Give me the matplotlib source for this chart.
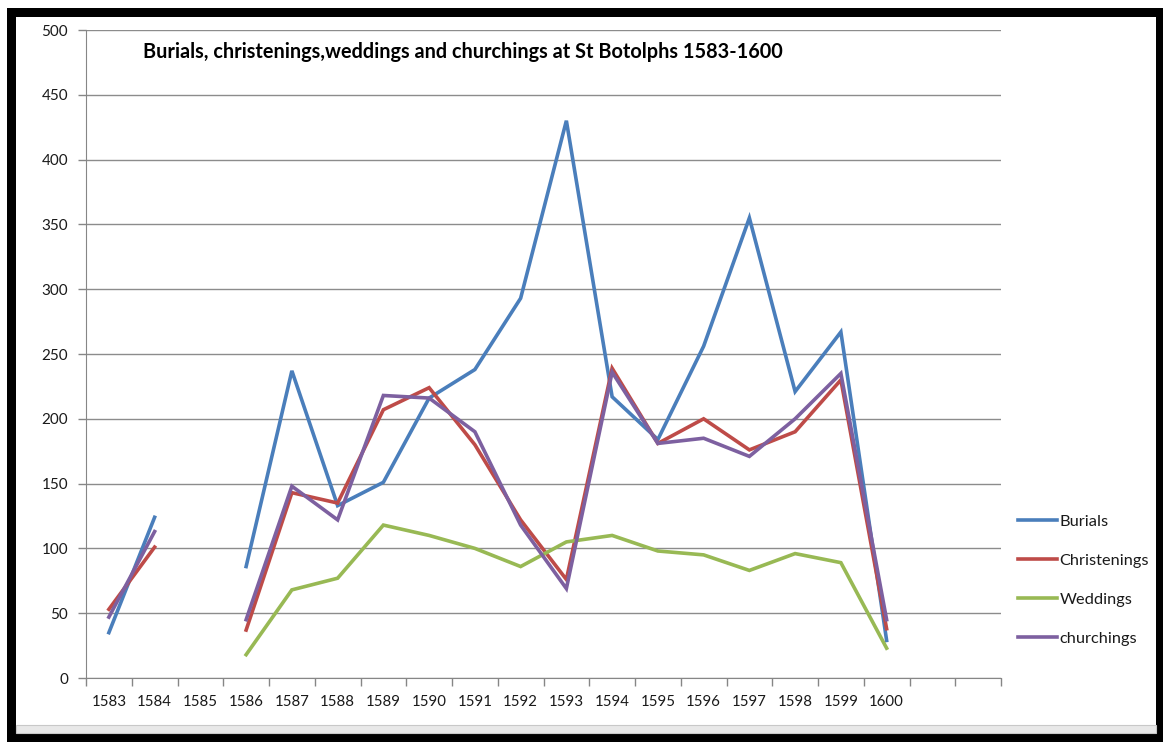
import numpy as np
import matplotlib
matplotlib.use("Agg")
import matplotlib.pyplot as plt
from matplotlib.patches import Rectangle

nan = np.nan
years = ["1583", "1584", "1585", "1586", "1587", "1588", "1589", "1590", "1591",
         "1592", "1593", "1594", "1595", "1596", "1597", "1598", "1599", "1600", "", ""]
burials = [35, 124, nan, 86, 237, 133, 151, 216, 238, 293, 430, 217, 184, 256, 355, 221, 267, 29, nan, nan]
christenings = [53, 101, nan, 37, 143, 135, 207, 224, 180, 122, 76, 239, 181, 200, 176, 190, 230, 38, nan, nan]
weddings = [nan, nan, nan, 18, 68, 77, 118, 110, 100, 86, 105, 110, 98, 95, 83, 96, 89, 23, nan, nan]
churchings = [47, 113, nan, 45, 148, 122, 218, 216, 190, 118, 69, 236, 181, 185, 171, 200, 235, 45, nan, nan]

series = [("Burials", burials, "#4A7EBB"),
          ("Christenings", christenings, "#BE4B48"),
          ("Weddings", weddings, "#98B954"),
          ("churchings", churchings, "#7D60A0")]

plt.rcParams['font.family'] = ['Lato', 'DejaVu Sans']

W, H = 1167, 742
fig = plt.figure(figsize=(W / 100, H / 100), dpi=100)

# outer black frame
fig.patches.append(Rectangle((7 / W, 0 / H), (W - 11) / W, (H - 8) / H, transform=fig.transFigure,
                             facecolor="black", edgecolor="none", zorder=-10))
fig.patches.append(Rectangle((16 / W, 9 / H), (W - 27) / W, (H - 26) / H, transform=fig.transFigure,
                             facecolor="white", edgecolor="none", zorder=-9))
# bottom status strip
fig.patches.append(Rectangle((16 / W, 9 / H), (W - 27) / W, 8 / H, transform=fig.transFigure,
                             facecolor="#e8e8e8", edgecolor="#c8c8c8", lw=0.8, zorder=-8))

ax = fig.add_axes([86 / W, (H - 678) / H, (1001 - 86) / W, (678 - 30) / H])
x = np.arange(len(years))
for name, vals, col in series:
    ax.plot(x, vals, color=col, lw=2.6, label=name, solid_joinstyle="miter")

ax.set_xlim(-0.5, len(years) - 0.5)
ax.set_ylim(0, 500)
ax.set_yticks(np.arange(0, 501, 50))
ax.set_xticks(x)
ax.set_xticklabels(years)
ax.set_xticks(np.arange(-0.5, len(years), 1), minor=True)
ax.tick_params(axis="x", which="major", length=0, pad=12, labelsize=10.8, labelcolor="#1a1a1a")
ax.tick_params(axis="x", which="minor", length=6, width=1, color="#868686", direction="out")
ax.tick_params(axis="y", length=6, width=1, color="#868686", labelsize=11, labelcolor="#1a1a1a", pad=7)
ax.grid(axis="y", color="#8c8c8c", lw=1)
ax.set_axisbelow(True)
for s in ["top", "right"]:
    ax.spines[s].set_visible(False)
ax.spines["left"].set_color("#868686")
ax.spines["bottom"].set_color("#868686")

fig.text(143 / W, 1 - 52 / H, "Burials, christenings,weddings and churchings at St Botolphs 1583-1600",
         fontsize=14.3, fontweight="bold", va="center", ha="left", color="black")

leg = fig.legend(loc="center left", bbox_to_anchor=(1003 / W, 1 - 580 / H), frameon=False,
                 fontsize=11.8, handlelength=2.4, handletextpad=0.15, labelspacing=1.5)
for t in leg.get_texts():
    t.set_color("#1a1a1a")

fig.savefig("out.png", dpi=100)
